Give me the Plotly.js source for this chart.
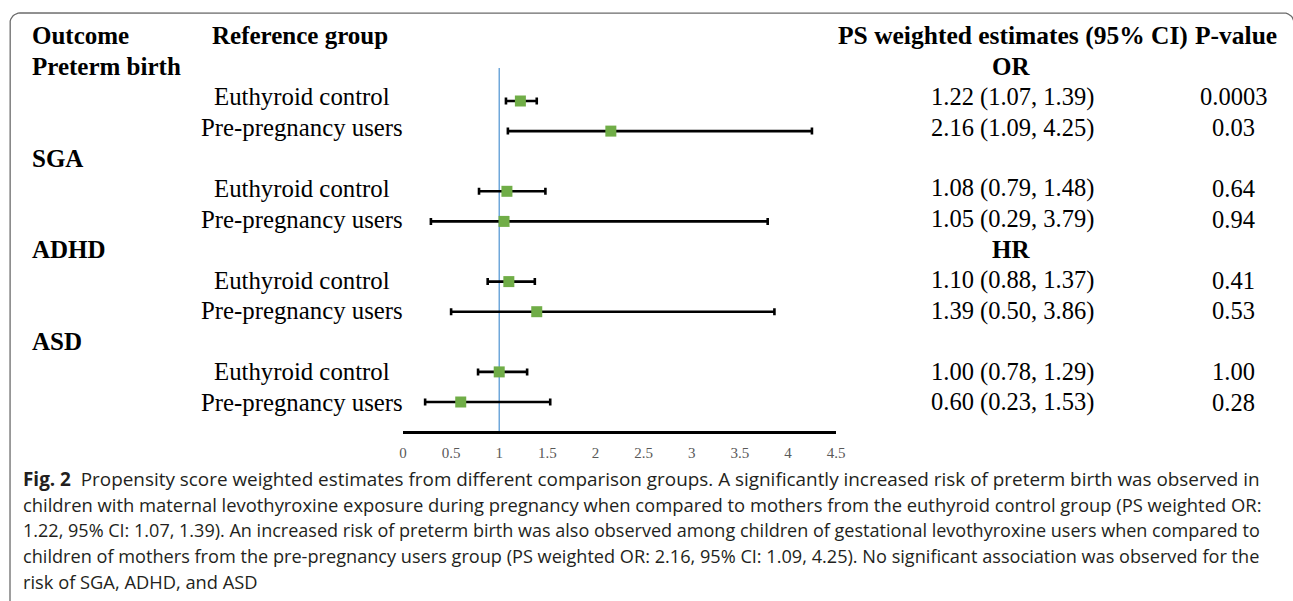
<!DOCTYPE html>
<html>
<head>
<meta charset="utf-8">
<script src="https://cdn.plot.ly/plotly-3.0.1.min.js"></script>
<style>html,body{margin:0;padding:0;background:#fff;}</style>
</head>
<body>
<div id="chart" style="width:1293px;height:601px;"></div>
<script>
// ---- data ----
var outcomes = ["Preterm birth", "SGA", "ADHD", "ASD"];
var measures = ["OR", null, "HR", null];
var groups = ["Euthyroid control", "Pre-pregnancy users"];
var estimates = [1.22, 2.16, 1.08, 1.05, 1.10, 1.39, 1.00, 0.60];
var lowerCI   = [1.07, 1.09, 0.79, 0.29, 0.88, 0.50, 0.78, 0.23];
var upperCI   = [1.39, 4.25, 1.48, 3.79, 1.37, 3.86, 1.29, 1.53];
var pValues   = ["0.0003", "0.03", "0.64", "0.94", "0.41", "0.53", "1.00", "0.28"];
var tickVals  = [0, 0.5, 1, 1.5, 2, 2.5, 3, 3.5, 4, 4.5];
var captionLines = [
  "<b>Fig. 2</b>  Propensity score weighted estimates from different comparison groups. A significantly increased risk of preterm birth was observed in",
  "children with maternal levothyroxine exposure during pregnancy when compared to mothers from the euthyroid control group (PS weighted OR:",
  "1.22, 95% CI: 1.07, 1.39). An increased risk of preterm birth was also observed among children of gestational levothyroxine users when compared to",
  "children of mothers from the pre-pregnancy users group (PS weighted OR: 2.16, 95% CI: 1.09, 4.25). No significant association was observed for the",
  "risk of SGA, ADHD, and ASD"
];
// per-line size to mimic the justified caption block
var captionSizes = [18.9, 18.4, 18.05, 18.15, 18.3];

// ---- layout helpers ----
var W = 1293, H = 601;
function px(x){ return x / W; }
function py(y){ return 1 - y / H; }
function textRowY(r){ return 36 + 30.5 * r; }
var serif = "Liberation Serif, Times New Roman, serif";

var rowIdx = [];
var ann = [];
function add(text, x, y, anchor, size){
  ann.push({text:text, xref:"paper", yref:"paper", x:px(x), y:py(y), xanchor:anchor, yanchor:"middle",
    showarrow:false, font:{family:serif, size:size, color:"#000"}});
}
var r = 1;
outcomes.forEach(function(o, i){
  add("<b>"+o+"</b>", 30, textRowY(r), "left", 25);
  if (measures[i]) add("<b>"+measures[i]+"</b>", 1011, textRowY(r), "center", 25);
  r++;
  groups.forEach(function(g, j){
    var k = i*2 + j;
    rowIdx.push(r);
    add(g, 302, textRowY(r), "center", 24.8);
    add(estimates[k].toFixed(2)+" ("+lowerCI[k].toFixed(2)+", "+upperCI[k].toFixed(2)+")", 1012, textRowY(r), "center", 24.5);
    add(pValues[k], 1233, textRowY(r), "center", 24.5);
    r++;
  });
});
add("<b>Outcome</b>", 30, textRowY(0), "left", 25);
add("<b>Reference group</b>", 210, textRowY(0), "left", 25);
add("<b>PS weighted estimates (95% CI)</b>", 1013, textRowY(0), "center", 25.5);
add("<b>P-value</b>", 1236, textRowY(0), "center", 25.5);

captionLines.forEach(function(t, i){
  ann.push({text:t, xref:"paper", yref:"paper", x:px(21), y:py(479 + 25.5*i), xanchor:"left", yanchor:"middle",
    showarrow:false, align:"left", font:{family:"Open Sans, Noto Sans, sans-serif", size:captionSizes[i], color:"#231f20"}});
});

var errPlus = estimates.map(function(e,k){ return upperCI[k]-e; });
var errMinus = estimates.map(function(e,k){ return e-lowerCI[k]; });

var trace = {
  type:"scatter", mode:"markers",
  x: estimates, y: rowIdx, xaxis:"x", yaxis:"y",
  marker:{symbol:"square", size:11, color:"#70AD47"},
  error_x:{type:"data", symmetric:false, array:errPlus, arrayminus:errMinus, color:"#000", thickness:2.6, width:3.5},
  hoverinfo:"x", showlegend:false, cliponaxis:false
};

// rounded frame (open at the bottom) drawn on a full-page pixel overlay
var rad = 10, frameTop = 13, frameLeft = 10, frameRight = 1294, frameBot = H + 5;
var fx = [frameLeft], fy = [frameBot];
function arc(cx, cy, a0, a1){
  for (var s = 0; s <= 8; s++){
    var a = a0 + (a1 - a0) * s / 8;
    fx.push(cx + rad * Math.cos(a)); fy.push(cy - rad * Math.sin(a));
  }
}
arc(frameLeft + rad, frameTop + rad, Math.PI, Math.PI/2);
arc(frameRight - rad, frameTop + rad, Math.PI/2, 0);
fx.push(frameRight); fy.push(frameBot);
var frameTrace = {type:"scatter", mode:"lines", x:fx, y:fy, xaxis:"x2", yaxis:"y2",
  line:{color:"#6b6b6b", width:1.3}, hoverinfo:"skip", showlegend:false, cliponaxis:false};

// marker pixel y = 40.8 + 30.1*row ; axis from pixel 68 to 431
var yTopPx = 68, yBotPx = 431;
function rowAt(p){ return (p - 40.8) / 30.1; }

var layout = {
  width:W, height:H,
  margin:{l:0,r:0,t:0,b:0,pad:0},
  paper_bgcolor:"#fff", plot_bgcolor:"rgba(0,0,0,0)",
  xaxis:{domain:[px(403), px(836)], range:[0,4.5], tickvals:tickVals, ticktext:tickVals.map(String),
    showgrid:false, zeroline:false, showline:true, linecolor:"#000", linewidth:2.6, ticks:"",
    ticklabelstandoff:6,
    tickfont:{family:serif, size:15, color:"#595959"}, fixedrange:true, anchor:"y"},
  yaxis:{domain:[py(yBotPx), py(yTopPx)], range:[rowAt(yBotPx), rowAt(yTopPx)], showgrid:false, zeroline:false,
    showline:false, showticklabels:false, ticks:"", fixedrange:true, anchor:"x"},
  xaxis2:{domain:[0,1], range:[0,W], visible:false, fixedrange:true, anchor:"y2"},
  yaxis2:{domain:[0,1], range:[H,0], visible:false, fixedrange:true, anchor:"x2"},
  shapes:[
    {type:"line", xref:"x", yref:"y domain", x0:1, x1:1, y0:0, y1:1, line:{color:"#5B9BD5", width:1.3}, layer:"below"}
  ],
  annotations:ann
};
Plotly.newPlot("chart", [frameTrace, trace], layout, {displayModeBar:false, staticPlot:true});
</script>
</body>
</html>
